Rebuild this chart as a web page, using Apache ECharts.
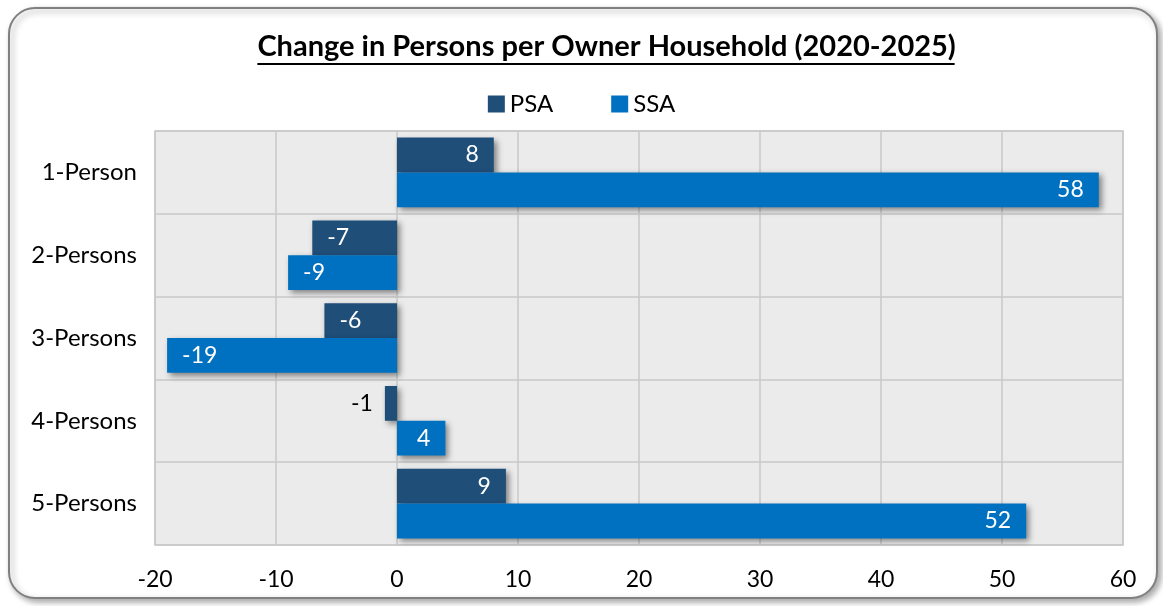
<!DOCTYPE html>
<html>
<head>
<meta charset="utf-8">
<script src="https://cdn.jsdelivr.net/npm/echarts@6/dist/echarts.min.js"></script>
<style>
  html, body { margin: 0; padding: 0; background: #fff; }
  #chart { width: 1163px; height: 606px; }
  #measure { position: absolute; left: -2000px; top: 0; white-space: nowrap; }
</style>
</head>
<body>
<div id="chart"></div>
<span id="measure"></span>
<script>
var categories = ['1-Person', '2-Persons', '3-Persons', '4-Persons', '5-Persons'];
var psaValues = [8, -7, -6, -1, 9];
var ssaValues = [58, -9, -19, 4, 52];
var xTicks = [-20, -10, 0, 10, 20, 30, 40, 50, 60];

var FONT = 'Lato';
var titleText = 'Change in Persons per Owner Household (2020-2025)';
var titleSize = 29;
var titleCenter = 606;

// measure the title so the underline fits it
var m = document.getElementById('measure');
m.style.font = 'bold ' + titleSize + 'px ' + FONT;
m.textContent = titleText;
var titleW = m.getBoundingClientRect().width;

var barShadow = {
  shadowBlur: 6,
  shadowOffsetX: 3,
  shadowOffsetY: 3,
  shadowColor: 'rgba(0,0,0,0.45)'
};

function makeData(values, color) {
  return values.map(function (v) {
    var item = { value: v, itemStyle: Object.assign({ color: color }, barShadow) };
    if (v === -1) {
      // too short to hold its label
      item.label = { position: 'left', color: '#000', distance: 12 };
    } else if (v < 0) {
      item.label = { position: 'insideLeft' };
    } else {
      item.label = { position: 'insideRight' };
    }
    return item;
  });
}

var chart = echarts.init(document.getElementById('chart'));
var option = {
  animation: false,
  textStyle: { fontFamily: FONT },
  title: {
    text: titleText,
    left: titleCenter - titleW / 2,
    top: 32,
    padding: 0,
    textStyle: { fontFamily: FONT, fontSize: titleSize, fontWeight: 'bold', color: '#000' }
  },
  legend: {
    data: ['PSA', 'SSA'],
    top: 87,
    left: 'center',
    itemWidth: 17,
    itemHeight: 17,
    itemGap: 58,
    icon: 'rect',
    textStyle: { fontFamily: FONT, fontSize: 24, color: '#000' }
  },
  graphic: [
    {
      type: 'rect',
      z: -10,
      shape: { x: 9, y: 8, width: 1148, height: 590, r: 26 },
      style: {
        fill: '#fff',
        stroke: '#808080',
        lineWidth: 2,
        shadowBlur: 6,
        shadowOffsetX: 3,
        shadowOffsetY: 3,
        shadowColor: 'rgba(0,0,0,0.35)'
      }
    },
    {
      type: 'line',
      shape: { x1: titleCenter - titleW / 2, y1: 64, x2: titleCenter + titleW / 2, y2: 64 },
      style: { stroke: '#000', lineWidth: 2 }
    }
  ],
  grid: {
    left: 155,
    right: 40,
    top: 131,
    bottom: 61,
    show: true,
    backgroundColor: '#ebebeb',
    borderColor: '#c8c8c8',
    borderWidth: 1.5
  },
  xAxis: {
    type: 'value',
    min: xTicks[0],
    max: xTicks[xTicks.length - 1],
    interval: 10,
    axisLine: { show: false },
    axisTick: { show: false },
    axisLabel: { fontFamily: FONT, fontSize: 23, color: '#000', margin: 23 },
    splitLine: { show: true, lineStyle: { color: '#c8c8c8', width: 1.5 } }
  },
  yAxis: {
    type: 'category',
    data: categories,
    inverse: true,
    axisLine: { show: false },
    axisTick: { show: false },
    axisLabel: { fontFamily: FONT, fontSize: 24, color: '#000', margin: 18 },
    splitLine: { show: true, lineStyle: { color: '#c8c8c8', width: 1.5 } }
  },
  series: [
    {
      name: 'PSA',
      type: 'bar',
      barGap: '0%',
      barCategoryGap: '16%',
      itemStyle: { color: '#1f4e79' },
      label: { show: true, color: '#fff', fontFamily: FONT, fontSize: 23, distance: 15 },
      data: makeData(psaValues, '#1f4e79')
    },
    {
      name: 'SSA',
      type: 'bar',
      barGap: '0%',
      barCategoryGap: '16%',
      itemStyle: { color: '#0070c0' },
      label: { show: true, color: '#fff', fontFamily: FONT, fontSize: 23, distance: 15 },
      data: makeData(ssaValues, '#0070c0')
    }
  ]
};
chart.setOption(option);
</script>
</body>
</html>
